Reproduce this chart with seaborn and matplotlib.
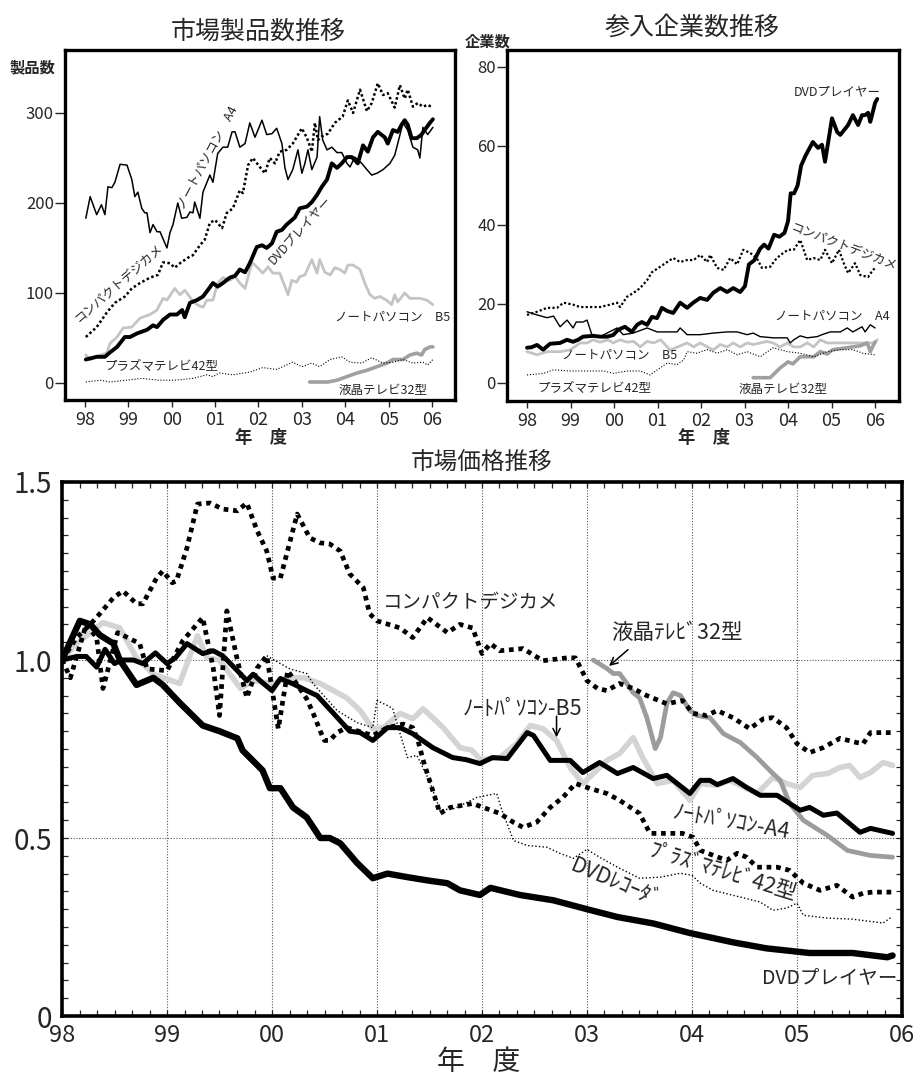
import matplotlib
matplotlib.use("Agg")
import matplotlib.pyplot as plt
from matplotlib.ticker import MultipleLocator, FixedLocator
import seaborn as sns

sns.set_style("ticks")
plt.rcParams["font.family"] = ["Noto Sans CJK JP", "DejaVu Sans"]

YEAR_LABELS = ["98", "99", "00", "01", "02", "03", "04", "05", "06"]

# ---------------- 市場製品数推移 (years since 1998, product count) ----------------
cnt_a4_x = [0.02, 0.12, 0.27, 0.38, 0.46, 0.53, 0.62, 0.69, 0.81, 0.97,
            1.08, 1.15, 1.22, 1.31, 1.38, 1.43, 1.5, 1.57, 1.66, 1.73,
            1.89, 1.96, 2.03, 2.14, 2.23, 2.35, 2.42, 2.49, 2.53, 2.65,
            2.72, 2.88, 2.95, 3.06, 3.18, 3.29, 3.39, 3.46, 3.57, 3.69,
            3.8, 3.92, 4.08, 4.19, 4.31, 4.42, 4.54, 4.61, 4.68, 4.79,
            4.91, 5.0, 5.07, 5.14, 5.23, 5.35, 5.41, 5.48, 5.58, 5.69,
            5.81, 5.92, 6.04, 6.11, 6.22, 6.38, 6.5, 6.61, 6.73, 6.87,
            7.03, 7.14, 7.21, 7.33, 7.44, 7.56, 7.67, 7.72, 7.79, 7.9,
            8.02]
cnt_a4_y = [183, 207, 187, 198, 187, 218, 217, 223, 243, 242,
            226, 207, 212, 194, 189, 189, 167, 176, 168, 168,
            150, 167, 176, 200, 183, 184, 190, 189, 201, 183,
            212, 231, 223, 255, 262, 262, 279, 279, 262, 266,
            289, 273, 292, 276, 277, 283, 266, 239, 226, 237,
            259, 233, 244, 259, 237, 251, 296, 270, 259, 262,
            256, 256, 244, 240, 251, 244, 237, 231, 233, 237,
            244, 253, 266, 289, 281, 262, 259, 250, 284, 276,
            284]

cnt_cam_x = [0.02, 0.27, 0.5, 0.69, 0.92, 1.08, 1.27, 1.5, 1.68, 1.8,
             1.96, 2.07, 2.19, 2.37, 2.49, 2.65, 2.76, 2.88, 3.0, 3.16,
             3.27, 3.41, 3.57, 3.64, 3.76, 3.87, 4.03, 4.15, 4.26, 4.38,
             4.49, 4.65, 4.79, 5.0, 5.12, 5.23, 5.3, 5.37, 5.46, 5.6,
             5.76, 5.94, 6.06, 6.18, 6.34, 6.5, 6.61, 6.75, 6.87, 6.98,
             7.14, 7.26, 7.37, 7.44, 7.56, 7.67, 7.79, 7.9, 8.02]
cnt_cam_y = [51, 62, 78, 89, 96, 105, 111, 117, 120, 134,
             133, 128, 133, 139, 142, 153, 159, 178, 181, 172,
             189, 194, 214, 211, 242, 250, 240, 233, 250, 244,
             257, 259, 266, 283, 272, 257, 289, 270, 274, 277,
             289, 296, 314, 300, 326, 302, 311, 333, 320, 322,
             306, 331, 316, 326, 307, 311, 307, 309, 306]

cnt_dvd_x = [0.02, 0.27, 0.46, 0.58, 0.74, 0.92, 1.04, 1.2, 1.43, 1.57,
             1.66, 1.8, 1.96, 2.12, 2.24, 2.3, 2.42, 2.58, 2.72, 2.83,
             2.95, 3.06, 3.18, 3.34, 3.46, 3.57, 3.69, 3.8, 3.96, 4.08,
             4.19, 4.31, 4.42, 4.54, 4.65, 4.77, 4.84, 4.95, 5.12, 5.23,
             5.35, 5.46, 5.58, 5.69, 5.81, 5.92, 6.04, 6.15, 6.29, 6.41,
             6.52, 6.64, 6.75, 6.91, 6.98, 7.1, 7.21, 7.3, 7.37, 7.44,
             7.53, 7.65, 7.76, 7.83, 7.95, 8.02]
cnt_dvd_y = [26, 29, 29, 34, 40, 51, 51, 55, 59, 64,
             62, 70, 76, 76, 81, 73, 89, 92, 96, 103,
             111, 107, 111, 117, 119, 126, 123, 133, 151, 153,
             150, 155, 168, 170, 176, 181, 184, 194, 196, 201,
             209, 218, 226, 244, 239, 244, 251, 251, 244, 264,
             257, 273, 279, 273, 266, 281, 279, 287, 292, 287,
             272, 272, 276, 281, 289, 293]

cnt_b5_x = [0.02, 0.12, 0.35, 0.5, 0.58, 0.74, 0.88, 1.08, 1.27, 1.5,
            1.66, 1.8, 1.89, 2.07, 2.19, 2.3, 2.47, 2.58, 2.72, 2.81,
            2.95, 3.06, 3.18, 3.34, 3.46, 3.57, 3.69, 3.85, 3.96, 4.1,
            4.22, 4.33, 4.49, 4.61, 4.68, 4.77, 4.88, 4.95, 5.07, 5.23,
            5.35, 5.41, 5.53, 5.65, 5.76, 5.88, 5.99, 6.06, 6.18, 6.34,
            6.45, 6.57, 6.68, 6.8, 6.95, 7.07, 7.14, 7.21, 7.37, 7.49,
            7.72, 7.88, 8.02]
cnt_b5_y = [31, 26, 31, 33, 44, 51, 61, 62, 72, 76,
            81, 94, 92, 105, 98, 103, 92, 87, 84, 92,
            92, 111, 117, 114, 118, 111, 105, 134, 129, 122,
            129, 122, 122, 107, 98, 114, 112, 118, 120, 137,
            122, 137, 123, 120, 128, 126, 122, 131, 131, 126,
            111, 98, 94, 96, 92, 87, 98, 90, 100, 94,
            94, 92, 87]

cnt_pdp_x = [0.02, 0.35, 0.58, 0.95, 1.31, 1.7, 2.07, 2.49, 2.81, 2.95,
             3.1, 3.41, 3.8, 4.1, 4.42, 4.65, 4.79, 5.0, 5.23, 5.41,
             5.65, 5.92, 6.11, 6.38, 6.61, 6.87, 7.1, 7.33, 7.56, 7.79,
             7.9, 8.02]
cnt_pdp_y = [1, 3, 1, 3, 5, 3, 3, 5, 9, 7,
             11, 9, 12, 17, 15, 20, 23, 18, 22, 18,
             26, 29, 23, 22, 28, 22, 23, 26, 22, 23,
             20, 26]

cnt_lcd_x = [5.18, 5.6, 5.81, 6.04, 6.27, 6.5, 6.73, 6.96, 7.1, 7.33,
             7.49, 7.65, 7.76, 7.83, 7.95, 8.02]
cnt_lcd_y = [1, 1, 3, 7, 11, 14, 18, 22, 26, 26,
             31, 33, 31, 37, 40, 40]

# ---------------- 参入企業数推移 (firm count) ----------------
firm_dvd_x = [0.0, 0.1, 0.23, 0.37, 0.53, 0.76, 0.92, 1.06, 1.17, 1.29,
              1.52, 1.68, 1.84, 1.98, 2.09, 2.25, 2.41, 2.53, 2.64, 2.76,
              2.87, 2.99, 3.1, 3.22, 3.36, 3.52, 3.68, 3.82, 3.98, 4.14,
              4.28, 4.44, 4.6, 4.74, 4.9, 5.01, 5.1, 5.22, 5.36, 5.45,
              5.55, 5.68, 5.8, 5.92, 6.0, 6.06, 6.14, 6.22, 6.3, 6.4,
              6.57, 6.69, 6.78, 6.85, 7.01, 7.13, 7.2, 7.38, 7.49, 7.61,
              7.7, 7.77, 7.84, 7.89, 7.93, 8.0, 8.05]
firm_dvd_y = [8.9, 9.0, 9.6, 8.4, 9.9, 10.1, 10.9, 10.4, 10.9, 11.7,
              11.9, 11.7, 11.7, 12.1, 13.4, 14.2, 12.9, 14.7, 15.4, 14.7,
              16.7, 16.4, 19.0, 18.2, 17.7, 20.3, 19.0, 20.3, 21.5, 21.0,
              22.8, 24.0, 23.0, 24.0, 23.0, 24.5, 30.0, 31.0, 34.0, 35.0,
              34.0, 37.5, 37.0, 38.0, 41.0, 48.0, 48.0, 50.0, 55.0, 57.5,
              61.0, 59.5, 60.3, 56.0, 67.0, 63.5, 62.8, 65.3, 67.8, 65.3,
              67.8, 67.8, 68.4, 66.1, 67.8, 70.9, 71.9]

firm_a4_x = [0.0, 0.23, 0.46, 0.61, 0.76, 0.92, 1.06, 1.13, 1.29, 1.38,
             1.49, 1.68, 1.84, 2.07, 2.21, 2.44, 2.76, 2.99, 3.45, 3.52,
             3.68, 3.98, 4.28, 4.6, 4.83, 5.06, 5.2, 5.36, 5.66, 5.98,
             6.05, 6.13, 6.28, 6.44, 6.67, 6.78, 6.97, 7.2, 7.36, 7.49,
             7.7, 7.77, 7.89, 8.0]
firm_a4_y = [18, 17.2, 16.5, 16.9, 14.2, 15.9, 13.9, 15.4, 15.4, 15.9,
             12.2, 11.7, 12.6, 13.9, 12.2, 12.6, 13.9, 12.9, 12.9, 13.9,
             12.2, 12.2, 12.6, 12.9, 12.9, 12.2, 12.6, 11.7, 11.4, 11.4,
             10.1, 10.9, 11.9, 11.4, 11.7, 12.2, 12.9, 12.9, 13.9, 12.9,
             14.2, 12.9, 14.7, 13.9]

firm_b5_x = [0.0, 0.23, 0.46, 0.76, 0.99, 1.22, 1.38, 1.52, 1.68, 1.87,
             1.98, 2.14, 2.3, 2.45, 2.6, 2.76, 2.91, 3.07, 3.29, 3.68,
             3.83, 3.98, 4.28, 4.44, 4.6, 4.74, 4.9, 5.06, 5.2, 5.36,
             5.52, 5.66, 5.82, 5.98, 6.13, 6.28, 6.44, 6.59, 6.74, 6.9,
             7.5, 8.0, 8.05]
firm_b5_y = [7.9, 7.1, 7.9, 7.9, 8.3, 10.1, 10.1, 10.9, 10.3, 10.9,
             10.1, 10.9, 10.3, 10.5, 9.1, 10.5, 10.1, 10.9, 8.3, 10.1,
             9.1, 10.1, 8.3, 9.7, 9.1, 10.1, 9.1, 10.1, 9.7, 10.1,
             10.5, 10.1, 9.1, 10.1, 9.1, 9.1, 10.1, 9.1, 10.9, 10.1,
             10.1, 10.1, 10.9]

firm_cam_x = [0.0, 0.23, 0.46, 0.69, 0.84, 1.06, 1.22, 1.45, 1.68, 1.91,
              2.07, 2.14, 2.3, 2.45, 2.6, 2.76, 2.87, 3.06, 3.22, 3.36,
              3.52, 3.68, 3.83, 3.98, 4.14, 4.21, 4.37, 4.52, 4.67, 4.83,
              4.97, 5.13, 5.28, 5.4, 5.59, 5.74, 5.89, 6.0, 6.13, 6.28,
              6.44, 6.59, 6.74, 6.85, 7.01, 7.17, 7.28, 7.38, 7.54, 7.66,
              7.84, 7.95, 8.0]
firm_cam_y = [17.2, 18, 19, 19, 20.3, 19.8, 19.2, 19.2, 19.2, 19.8,
              20.3, 19.2, 21.8, 22.8, 24, 26, 28, 29.4, 30.6, 31.6,
              30.6, 31.1, 31.1, 32.4, 30.6, 32.4, 29.1, 28.6, 31.6, 30,
              33.7, 32.9, 31.6, 29.1, 29.4, 31.6, 32.9, 33.7, 33.7, 36.2,
              31.1, 31.6, 31.1, 33.7, 30.3, 33.7, 30.3, 27.8, 30.3, 27.3,
              26.8, 28.6, 29]

firm_pdp_x = [0.0, 0.38, 0.61, 0.99, 1.38, 1.76, 1.99, 2.3, 2.6, 2.83,
              3.06, 3.22, 3.45, 3.6, 3.68, 3.9, 4.14, 4.37, 4.6, 4.83,
              5.06, 5.36, 5.66, 5.98, 6.28, 6.59, 6.9, 7.2, 7.49, 7.72,
              8.0]
firm_pdp_y = [2, 2.4, 3.3, 3, 3, 3, 2.4, 3, 3, 2,
              3.8, 5, 4.6, 5.8, 7.9, 7.5, 8.4, 7.5, 8.4, 7.1,
              7.9, 6.6, 8.9, 7.9, 7.5, 6.6, 7.9, 8.4, 8.4, 7.5,
              7.1]

firm_lcd_x = [5.2, 5.59, 5.82, 6.0, 6.11, 6.28, 6.59, 6.74, 6.9, 7.03,
              7.36, 7.66, 7.82, 7.89, 8.0]
firm_lcd_y = [1.3, 1.3, 3.8, 5.3, 4.8, 6.6, 6.6, 7.9, 7.3, 8.4,
              8.9, 9.4, 10.1, 7.9, 10.4]

# ---------------- 市場価格推移 (price index, 1.0 = launch) ----------------
prc_cam_x = [0, 0.14, 0.27, 0.36, 0.49, 0.58, 0.71, 0.77, 0.9, 0.96,
             1.05, 1.09, 1.19, 1.29, 1.41, 1.53, 1.67, 1.76, 1.86, 1.95,
             2.01, 2.08, 2.24, 2.36, 2.46, 2.55, 2.65, 2.74, 2.87, 2.93,
             3.0, 3.22, 3.34, 3.48, 3.67, 3.79, 3.91, 4.0, 4.08, 4.17,
             4.39, 4.58, 4.81, 4.89, 5.0, 5.1, 5.19, 5.31, 5.44, 5.57,
             5.76, 5.91, 6.01, 6.14, 6.24, 6.39, 6.55, 6.68, 6.77, 6.9,
             7.0, 7.12, 7.25, 7.41, 7.57, 7.63, 7.7, 7.91]
prc_cam_y = [1.0, 1.063, 1.10, 1.13, 1.175, 1.194, 1.158, 1.158, 1.23, 1.25,
             1.217, 1.222, 1.315, 1.438, 1.441, 1.424, 1.419, 1.441, 1.362, 1.306,
             1.23, 1.23, 1.41, 1.343, 1.329, 1.326, 1.306, 1.242, 1.203, 1.13,
             1.11, 1.09, 1.063, 1.119, 1.077, 1.10, 1.09, 1.018, 1.046, 1.026,
             1.032, 0.998, 1.006, 1.006, 0.942, 0.92, 0.914, 0.934, 0.92, 0.90,
             0.877, 0.886, 0.85, 0.844, 0.858, 0.838, 0.807, 0.835, 0.838, 0.81,
             0.765, 0.74, 0.754, 0.78, 0.768, 0.765, 0.796, 0.796]

prc_lcd_x = [5.06, 5.19, 5.25, 5.31, 5.38, 5.44, 5.5, 5.57, 5.65, 5.7,
             5.76, 5.82, 5.89, 5.98, 6.05, 6.17, 6.3, 6.46, 6.62, 6.74,
             6.84, 6.93, 7.06, 7.29, 7.48, 7.7, 7.91]
prc_lcd_y = [1.0, 0.976, 0.962, 0.962, 0.934, 0.908, 0.894, 0.838, 0.751, 0.782,
             0.877, 0.908, 0.9, 0.858, 0.844, 0.838, 0.793, 0.768, 0.726, 0.69,
             0.662, 0.597, 0.55, 0.507, 0.465, 0.451, 0.446]

prc_b5_x = [0, 0.14, 0.39, 0.55, 0.71, 0.87, 1.12, 1.29, 1.38, 1.5,
            1.7, 1.82, 2.01, 2.17, 2.3, 2.46, 2.71, 2.84, 2.96, 3.06,
            3.22, 3.34, 3.44, 3.63, 3.79, 3.9, 3.99, 4.17, 4.33, 4.46,
            4.58, 4.71, 4.84, 4.96, 5.06, 5.19, 5.31, 5.44, 5.53, 5.67,
            5.82, 5.98, 6.08, 6.24, 6.36, 6.46, 6.62, 6.77, 6.9, 7.03,
            7.15, 7.29, 7.41, 7.5, 7.6, 7.7, 7.82, 7.91]
prc_b5_y = [1.0, 1.046, 1.105, 1.09, 1.006, 0.96, 0.934, 1.068, 1.006, 1.0,
            0.92, 0.942, 0.934, 0.95, 0.95, 0.934, 0.894, 0.858, 0.807, 0.81,
            0.85, 0.835, 0.863, 0.81, 0.754, 0.747, 0.72, 0.726, 0.765, 0.816,
            0.807, 0.774, 0.698, 0.653, 0.681, 0.718, 0.737, 0.782, 0.726, 0.653,
            0.662, 0.606, 0.653, 0.648, 0.662, 0.648, 0.625, 0.67, 0.653, 0.642,
            0.676, 0.681, 0.698, 0.704, 0.67, 0.684, 0.712, 0.704]

prc_a4_x = [0, 0.14, 0.23, 0.33, 0.41, 0.5, 0.57, 0.68, 0.77, 0.89,
            1.0, 1.08, 1.19, 1.34, 1.44, 1.53, 1.67, 1.76, 1.82, 1.91,
            2.0, 2.08, 2.2, 2.33, 2.43, 2.58, 2.74, 2.84, 2.96, 3.1,
            3.22, 3.34, 3.53, 3.72, 3.85, 3.98, 4.1, 4.24, 4.43, 4.49,
            4.65, 4.84, 4.96, 5.12, 5.29, 5.44, 5.63, 5.76, 5.98, 6.08,
            6.17, 6.24, 6.39, 6.52, 6.65, 6.81, 7.03, 7.12, 7.25, 7.38,
            7.6, 7.7, 7.91]
prc_a4_y = [1.0, 1.01, 1.01, 0.98, 1.03, 0.99, 1.0, 1.0, 0.99, 1.02,
            0.99, 1.006, 1.046, 1.018, 1.026, 1.012, 0.97, 0.942, 0.96, 0.936,
            0.914, 0.948, 0.933, 0.914, 0.90, 0.852, 0.80, 0.796, 0.774, 0.81,
            0.81, 0.793, 0.754, 0.726, 0.72, 0.709, 0.726, 0.723, 0.796, 0.788,
            0.718, 0.718, 0.684, 0.712, 0.681, 0.698, 0.667, 0.676, 0.625, 0.662,
            0.662, 0.65, 0.667, 0.642, 0.62, 0.62, 0.578, 0.586, 0.564, 0.57,
            0.516, 0.527, 0.513]

prc_pdp_x = [0, 0.08, 0.23, 0.33, 0.39, 0.53, 0.74, 0.81, 1.0, 1.15,
             1.34, 1.44, 1.5, 1.57, 1.67, 1.76, 1.86, 1.95, 2.06, 2.15,
             2.33, 2.39, 2.46, 2.5, 2.55, 2.62, 2.71, 2.96, 3.1, 3.25,
             3.34, 3.39, 3.44, 3.5, 3.57, 3.6, 3.7, 3.82, 3.91, 4.01,
             4.17, 4.3, 4.39, 4.52, 4.65, 4.77, 4.89, 5.03, 5.19, 5.31,
             5.5, 5.6, 5.76, 5.91, 6.01, 6.08, 6.33, 6.43, 6.52, 6.62,
             6.81, 6.93, 7.06, 7.22, 7.38, 7.53, 7.63, 7.72, 7.91]
prc_pdp_y = [1.0, 0.95, 1.10, 1.063, 0.92, 1.077, 1.046, 0.975, 0.97, 1.054,
             1.119, 0.978, 0.844, 1.138, 1.0, 0.894, 0.978, 1.012, 0.807, 0.97,
             0.891, 0.852, 0.80, 0.774, 0.774, 0.796, 0.81, 0.788, 0.81, 0.82,
             0.81, 0.774, 0.718, 0.662, 0.597, 0.569, 0.586, 0.592, 0.597, 0.586,
             0.569, 0.544, 0.53, 0.544, 0.586, 0.614, 0.653, 0.639, 0.625, 0.606,
             0.569, 0.513, 0.513, 0.513, 0.502, 0.465, 0.437, 0.457, 0.446, 0.418,
             0.418, 0.409, 0.373, 0.353, 0.367, 0.334, 0.345, 0.348, 0.348]

prc_rec_x = [1.95, 2.08, 2.17, 2.33, 2.39, 2.62, 2.81, 2.96, 3.0, 3.1,
             3.15, 3.22, 3.29, 3.38, 3.5, 3.6, 3.74, 3.95, 4.14, 4.19,
             4.3, 4.43, 4.62, 4.74, 4.87, 5.0, 5.12, 5.29, 5.5, 5.7,
             5.89, 6.0, 6.08, 6.2, 6.46, 6.65, 6.77, 6.9, 7.0, 7.06,
             7.29, 7.53, 7.82, 7.9]
prc_rec_y = [1.012, 0.99, 0.975, 0.962, 0.934, 0.858, 0.824, 0.81, 0.886, 0.872,
             0.863, 0.793, 0.726, 0.732, 0.66, 0.578, 0.583, 0.614, 0.625, 0.578,
             0.493, 0.479, 0.474, 0.457, 0.443, 0.468, 0.446, 0.418, 0.387, 0.39,
             0.401, 0.395, 0.373, 0.353, 0.334, 0.32, 0.297, 0.303, 0.317, 0.283,
             0.275, 0.272, 0.261, 0.278]

prc_dvd_x = [0, 0.17, 0.27, 0.36, 0.49, 0.55, 0.71, 0.87, 0.96, 1.12,
             1.34, 1.5, 1.67, 1.72, 1.91, 1.98, 2.08, 2.2, 2.33, 2.46,
             2.55, 2.65, 2.81, 2.96, 3.1, 3.29, 3.5, 3.67, 3.79, 3.98,
             4.08, 4.36, 4.68, 5.0, 5.29, 5.63, 5.98, 6.39, 6.71, 7.12,
             7.53, 7.86, 7.91]
prc_dvd_y = [1.0, 1.11, 1.10, 1.07, 1.046, 1.0, 0.93, 0.95, 0.93, 0.88,
             0.816, 0.80, 0.78, 0.746, 0.69, 0.64, 0.64, 0.586, 0.558, 0.50,
             0.50, 0.485, 0.43, 0.387, 0.40, 0.39, 0.38, 0.373, 0.353, 0.34,
             0.36, 0.34, 0.325, 0.30, 0.278, 0.26, 0.233, 0.207, 0.19, 0.177,
             0.177, 0.165, 0.17]

BLACK = "#000000"
LIGHT = "#d4d4d4"
MID = "#9c9c9c"
DOT_THICK = (0, (1, 1))
DOT_THIN = (0, (1, 1.6))

W, H = 919, 1075
fig = plt.figure(figsize=(W / 100, H / 100), dpi=100)


def fx(px):
    return px / W


def fy(py):
    return 1 - py / H


def series(ax, xs, ys, color, lw, ls="-", z=3):
    sns.lineplot(x=xs, y=ys, ax=ax, color=color, linewidth=lw, linestyle=ls,
                 estimator=None, sort=False, zorder=z)


def frame(ax, lw):
    for s in ax.spines.values():
        s.set_linewidth(lw)
        s.set_color("black")
        s.set_visible(True)


# ---------- panel 1: 市場製品数推移 ----------
ax1 = fig.add_axes([fx(65), fy(400), fx(455) - fx(65), fy(50) - fy(400)])
series(ax1, cnt_b5_x, cnt_b5_y, "#c4c4c4", 2.0, z=2)
series(ax1, cnt_lcd_x, cnt_lcd_y, "#a0a0a0", 2.6, z=2)
series(ax1, cnt_pdp_x, cnt_pdp_y, BLACK, 0.8, DOT_THIN)
series(ax1, cnt_cam_x, cnt_cam_y, BLACK, 1.8, DOT_THICK)
series(ax1, cnt_a4_x, cnt_a4_y, BLACK, 1.1)
series(ax1, cnt_dvd_x, cnt_dvd_y, BLACK, 2.8)
ax1.set_xlim(-0.46, 8.53)
ax1.set_ylim(-19, 370)
ax1.set_yticks([0, 100, 200, 300])
ax1.set_xticks(range(9))
ax1.set_xticklabels(YEAR_LABELS)

lab = dict(fontsize=9, ha="center", va="center", rotation_mode="anchor")
ax1.text(2.81, 251, "ノートパソコン　A4", rotation=62, **lab)
ax1.text(0.78, 110, "コンパクトデジカメ", rotation=41, **lab)
ax1.text(4.95, 170, "DVDプレイヤー", rotation=48, **lab)
ax1.text(7.1, 73, "ノートパソコン　B5", **lab)
ax1.text(1.77, 18, "プラズマテレビ42型", **lab)
ax1.text(6.87, -8, "液晶テレビ32型", **lab)

# ---------- panel 2: 参入企業数推移 ----------
ax2 = fig.add_axes([fx(507), fy(401), fx(899) - fx(507), fy(50) - fy(401)])
series(ax2, firm_b5_x, firm_b5_y, "#c4c4c4", 2.0, z=2)
series(ax2, firm_lcd_x, firm_lcd_y, "#a0a0a0", 2.6, z=2)
series(ax2, firm_pdp_x, firm_pdp_y, BLACK, 0.8, DOT_THIN)
series(ax2, firm_cam_x, firm_cam_y, BLACK, 1.6, DOT_THICK)
series(ax2, firm_a4_x, firm_a4_y, BLACK, 1.0)
series(ax2, firm_dvd_x, firm_dvd_y, BLACK, 2.8)
ax2.set_xlim(-0.46, 8.55)
ax2.set_ylim(-4.6, 84.3)
ax2.set_yticks([0, 20, 40, 60, 80])
ax2.set_xticks(range(9))
ax2.set_xticklabels(YEAR_LABELS)

ax2.text(7.13, 73.7, "DVDプレイヤー", **lab)
ax2.text(7.26, 34.4, "コンパクトデジカメ", rotation=-21, **lab)
ax2.text(7.01, 16.9, "ノートパソコン　A4", **lab)
ax2.text(2.14, 7.1, "ノートパソコン　B5", **lab)
ax2.text(1.54, -1.3, "プラズマテレビ42型", **lab)
ax2.text(5.89, -1.8, "液晶テレビ32型", **lab)

for ax in (ax1, ax2):
    frame(ax, 2.4)
    ax.set_xlabel("")
    ax.set_ylabel("")
    ax.tick_params(axis="x", direction="out", length=5, width=1, pad=3, labelsize=13)
    ax.tick_params(axis="y", direction="out", length=7, width=1, pad=1, labelsize=12)

fig.text(fx(258), fy(32), "市場製品数推移", ha="center", va="center", fontsize=18)
fig.text(fx(692), fy(28), "参入企業数推移", ha="center", va="center", fontsize=18)
fig.text(fx(32), fy(67), "製品数", ha="center", va="center", fontsize=11, fontweight="bold")
fig.text(fx(488), fy(42), "企業数", ha="center", va="center", fontsize=11, fontweight="bold")
fig.text(fx(261), fy(438), "年　度", ha="center", va="center", fontsize=12.5, fontweight="bold")
fig.text(fx(704), fy(438), "年　度", ha="center", va="center", fontsize=12.5, fontweight="bold")

# ---------- panel 3: 市場価格推移 ----------
ax3 = fig.add_axes([fx(62), fy(1016), fx(902) - fx(62), fy(482) - fy(1016)])
series(ax3, prc_b5_x, prc_b5_y, LIGHT, 4.0, z=2)
series(ax3, prc_lcd_x, prc_lcd_y, MID, 3.4, z=2.5)
series(ax3, prc_rec_x, prc_rec_y, BLACK, 1.0, DOT_THIN)
series(ax3, prc_cam_x, prc_cam_y, BLACK, 3.4, DOT_THICK)
series(ax3, prc_pdp_x, prc_pdp_y, BLACK, 3.4, DOT_THICK)
series(ax3, prc_a4_x, prc_a4_y, BLACK, 3.6)
series(ax3, prc_dvd_x, prc_dvd_y, BLACK, 4.6)
ax3.set_xlim(0, 8)
ax3.set_ylim(0, 1.5)
ax3.xaxis.set_major_locator(FixedLocator(range(9)))
ax3.set_xticklabels(YEAR_LABELS)
ax3.yaxis.set_major_locator(FixedLocator([0, 0.5, 1.0, 1.5]))
ax3.set_yticklabels(["0", "0.5", "1.0", "1.5"])
ax3.xaxis.set_minor_locator(MultipleLocator(1 / 6))
ax3.yaxis.set_minor_locator(MultipleLocator(0.05))
ax3.grid(True, which="major", color="#555555", linewidth=0.8, linestyle=(0, (1, 1.5)))
ax3.set_axisbelow(True)
frame(ax3, 2.6)
ax3.set_xlabel("")
ax3.set_ylabel("")
ax3.tick_params(which="both", direction="in", top=True, right=True, width=0.9)
ax3.tick_params(which="major", length=4)
ax3.tick_params(which="minor", length=4)
ax3.tick_params(axis="x", which="major", labelsize=17, pad=6)
ax3.tick_params(axis="y", which="major", labelsize=20, pad=7)

big = dict(ha="center", va="center", rotation_mode="anchor")
ax3.text(3.89, 1.161, "コンパクトデジカメ", fontsize=14, **big)
ax3.text(5.86, 1.077, "液晶ﾃﾚﾋﾞ32型", fontsize=15.5, **big)
ax3.text(4.39, 0.863, "ﾉｰﾄﾊﾟｿｺﾝ-B5", fontsize=15.5, **big)
ax3.text(6.37, 0.544, "ﾉｰﾄﾊﾟｿｺﾝ-A4", fontsize=15.5, rotation=-10, **big)
ax3.text(6.29, 0.404, "ﾌﾟﾗｽﾞﾏﾃﾚﾋﾞ42型", fontsize=15.5, rotation=-17, **big)
ax3.text(5.27, 0.373, "DVDﾚｺｰﾀﾞ", fontsize=15.5, rotation=-23, **big)
ax3.text(7.31, 0.109, "DVDプレイヤー", fontsize=14, **big)

arrow = dict(arrowstyle="->", color="black", lw=1.1, mutation_scale=13)
ax3.annotate("", xy=(5.19, 0.978), xytext=(5.41, 1.034), arrowprops=arrow)
ax3.annotate("", xy=(4.71, 0.775), xytext=(4.71, 0.85), arrowprops=arrow)

fig.text(fx(482), fy(462), "市場価格推移", ha="center", va="center", fontsize=17)
fig.text(fx(479), fy(1062), "年　度", ha="center", va="center", fontsize=20)

fig.savefig("out.png", dpi=100)
